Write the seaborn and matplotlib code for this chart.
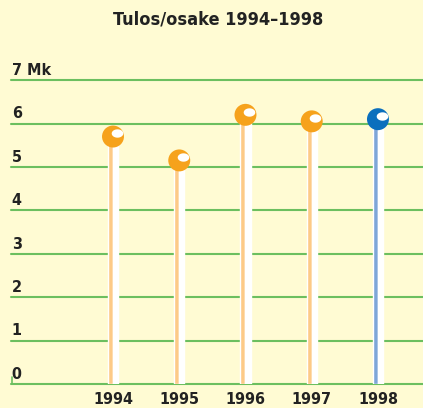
import numpy as np
import pandas as pd
import seaborn as sns
import matplotlib.pyplot as plt
from matplotlib.transforms import offset_copy

# chart data
years = ['1994', '1995', '1996', '1997', '1998']
eps = [5.7, 5.15, 6.2, 6.05, 6.1]
kind = ['past', 'past', 'past', 'past', 'current']
y_ticks = [0, 1, 2, 3, 4, 5, 6, 7]
y_labels = ['0', '1', '2', '3', '4', '5', '6', '7 Mk']
title = 'Tulos/osake 1994\u20131998'

bg = '#fffbd3'
dot_colors = {'past': '#f6a21c', 'current': '#0b6fbd'}
stem_colors = {'past': '#fdca87', 'current': '#7ea6d8'}
grid_color = '#6cbf5f'
text_color = '#222222'


def main():
    sns.set_style('white')
    plt.rcParams['font.family'] = ['DejaVu Sans']
    plt.rcParams['font.stretch'] = 'condensed'

    df = pd.DataFrame({'year': years, 'eps': eps, 'kind': kind})
    df['pos'] = np.arange(len(df))

    fig = plt.figure(figsize=(4.23, 4.08), dpi=100, facecolor=bg)
    ax = fig.add_axes([0.026, 0.0588, 0.974, 0.83])
    ax.set_facecolor(bg)

    # green grid lines
    for t in y_ticks:
        ax.axhline(t, color=grid_color, lw=1.5, zorder=1, clip_on=False)
    ax.plot([-1.53, -1.53], [0, 0.15], color=grid_color, lw=1.2,
            clip_on=False)

    # two-tone stems
    w = 0.076
    ax.bar(df['pos'] - w / 2, df['eps'], width=w,
           color=[stem_colors[k] for k in df['kind']], zorder=2)
    ax.bar(df['pos'] + w / 2, df['eps'], width=w, color='white', zorder=2)

    # dots with a glossy highlight
    sns.scatterplot(data=df, x='pos', y='eps', hue='kind',
                    palette=dot_colors, s=250, edgecolor='none',
                    legend=False, zorder=3, ax=ax)
    th = np.linspace(0, 2 * np.pi, 40)
    ellipse = np.column_stack([np.cos(th), 0.72 * np.sin(th)])
    shine = offset_copy(ax.transData, fig=fig, x=2.6, y=2.4, units='points')
    ax.scatter(df['pos'], df['eps'], s=70, color='white', marker=ellipse,
               linewidths=0, transform=shine, zorder=4)

    ax.set_xlim(-1.54, 4.68)
    ax.set_ylim(0, 7.8)
    ax.set_xticks(df['pos'])
    ax.set_xticklabels(years, fontsize=11.5, fontweight='bold',
                       color=text_color)
    ax.tick_params(axis='x', length=0, pad=6)
    ax.set_yticks([])
    ax.set_xlabel('')
    ax.set_ylabel('')
    for s in ax.spines.values():
        s.set_visible(False)

    # y labels sit above the grid lines
    for t, lab in zip(y_ticks, y_labels):
        ax.text(0.002, t + 0.12, lab, transform=ax.get_yaxis_transform(),
                fontsize=11.5, fontweight='bold', color=text_color,
                ha='left', va='baseline')

    fig.text(0.515, 0.951, title, fontsize=13, fontweight='bold',
             color=text_color, ha='center', va='center')

    plt.savefig('out.png', dpi=100, facecolor=bg)


if __name__ == '__main__':
    main()
